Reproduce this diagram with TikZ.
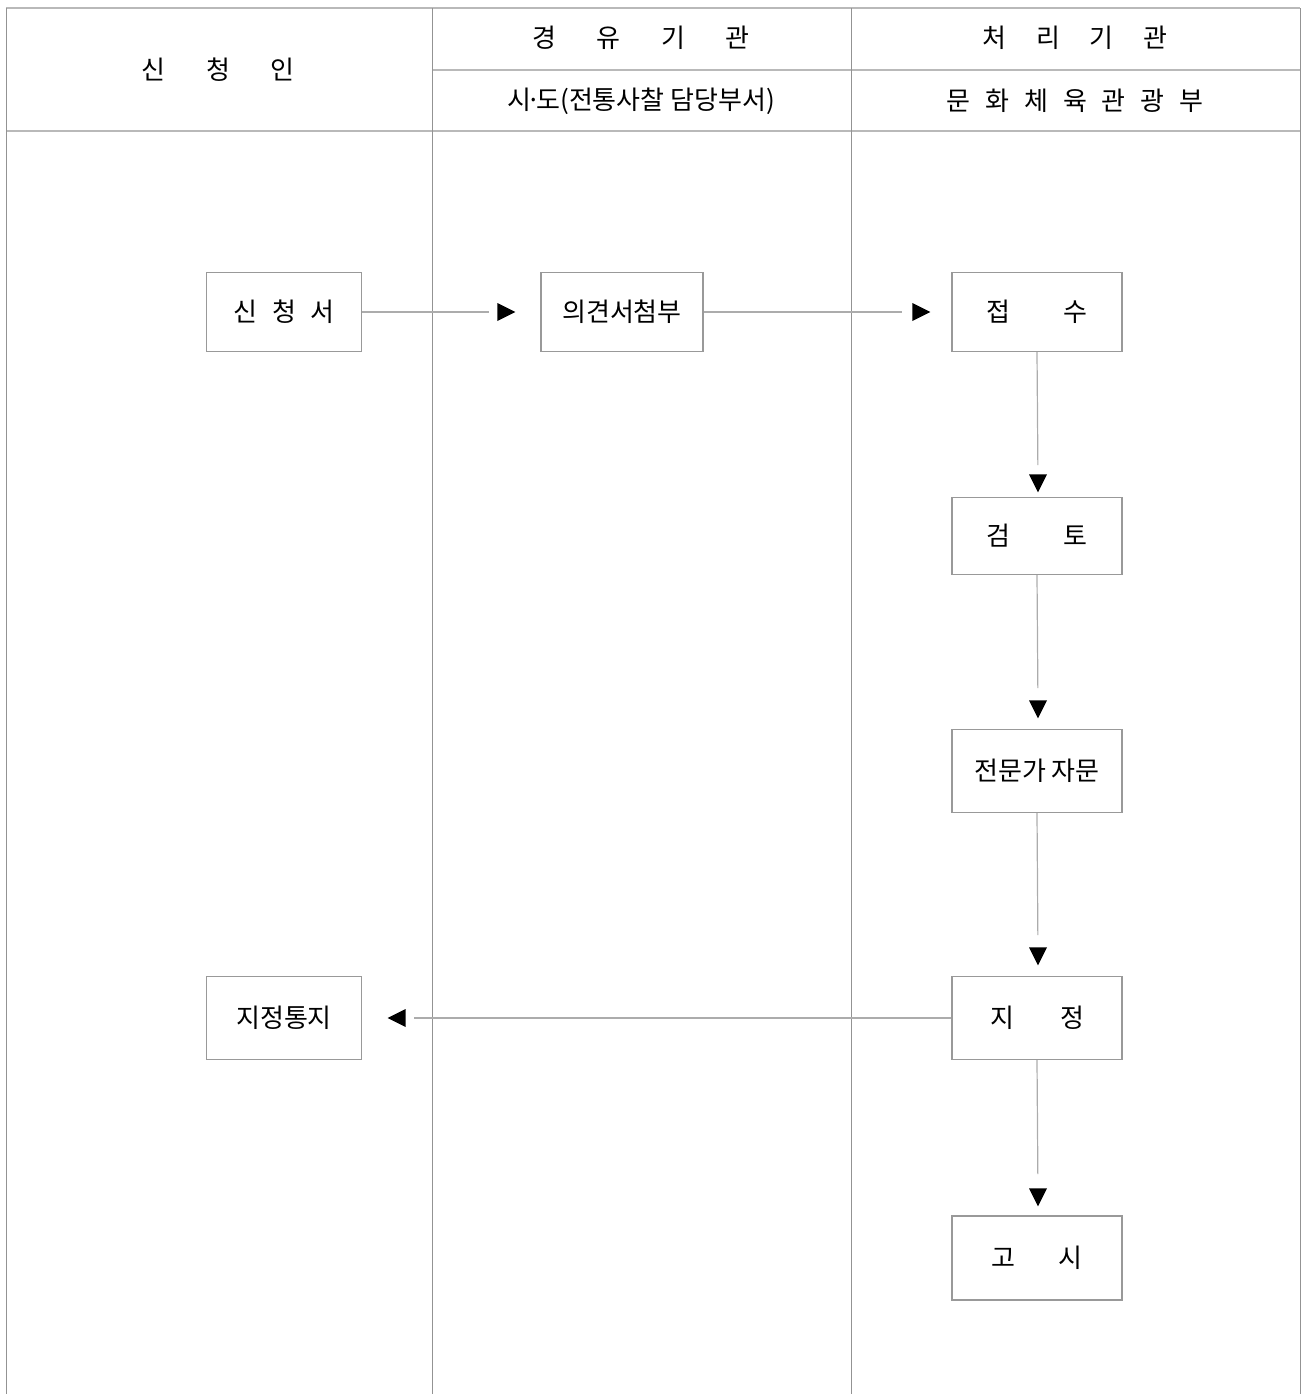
\documentclass[tikz,border=0pt]{standalone}
\usepackage{fontspec}
\setmainfont{Noto Sans CJK KR}
\usetikzlibrary{shapes.geometric}

\newcommand{\kgap}[1]{\hspace{#1pt}}

\begin{document}
\begin{tikzpicture}[x=0.5pt, y=-0.5pt,
    every node/.style={font=\fontsize{13}{15}\selectfont},
    frame/.style={draw=gray!55, line width=1pt},
    lane/.style={draw=gray!85, line width=0.5pt},
    stepbox/.style={draw=gray!80, line width=0.6pt, fill=white, inner sep=0pt},
    link/.style={draw=gray!65, line width=0.6pt},
    tip/.style={isosceles triangle, isosceles triangle stretches, fill=black,
        inner sep=0pt, minimum width=9pt, minimum height=9pt}]

    \useasboundingbox (0,0) rectangle (1302,1394);

    % table frame
    \draw[frame] (6,8) -- (1300,8);
    \draw[frame] (432,70) -- (1300,70);
    \draw[frame] (6,131) -- (1300,131);
    \draw[lane] (6,8) -- (6,1394);
    \draw[lane] (432,8) -- (432,1394);
    \draw[lane] (851,8) -- (851,1394);
    \draw[lane] (1300,8) -- (1300,1394);

    % headers
    \node (hdapp) at (218,70) {신\kgap{20.5}청\kgap{20.5}인};
    \node (hdvia) at (641,38) {경\kgap{20.3}유\kgap{20.3}기\kgap{20.3}관};
    \node (hdproc) at (1075,38) {처\kgap{15}리\kgap{15}기\kgap{15}관};
    \node (hdcity) at (641,101) {시\kern-2.3pt·\kern-2.3pt도(전통사찰 담당부서)};
    \node (hdmin) at (1075,101) {문\kgap{7.5}화\kgap{7.5}체\kgap{7.5}육\kgap{7.5}관\kgap{7.5}광\kgap{7.5}부};

    % steps
    \node[stepbox, minimum width=77.5pt, minimum height=39.5pt] (apply) at (284,312) {신\kgap{7.5}청\kgap{7.5}서};
    \node[stepbox, minimum width=81pt, minimum height=39.5pt] (opinion) at (622,312) {의견서첨부};
    \node[stepbox, minimum width=85pt, minimum height=39.5pt] (receive) at (1037,312) {접\kgap{27}수};
    \node[stepbox, minimum width=85pt, minimum height=38.5pt] (review) at (1037,536) {검\kgap{27}토};
    \node[stepbox, minimum width=85pt, minimum height=41.5pt] (expert) at (1037,771) {전문가 자문};
    \node[stepbox, minimum width=85pt, minimum height=41.5pt] (assign) at (1037,1018) {지\kgap{23}정};
    \node[stepbox, minimum width=85pt, minimum height=42pt] (notice) at (1037,1258) {고\kgap{22}시};
    \node[stepbox, minimum width=77.5pt, minimum height=41.5pt] (inform) at (284,1018) {지정통지};

    % arrow heads
    \node[tip] (tipopinion) at (503,312) {};
    \node[tip] (tipreceive) at (918,312) {};
    \node[tip, shape border rotate=270] (tipreview) at (1038,480) {};
    \node[tip, shape border rotate=270] (tipexpert) at (1038,706) {};
    \node[tip, shape border rotate=270] (tipassign) at (1038,953) {};
    \node[tip, shape border rotate=270] (tipnotice) at (1038,1194) {};
    \node[tip, shape border rotate=180] (tipinform) at (400,1018) {};

    % connectors
    \draw[link, shorten >=4pt] (apply) -- (tipopinion);
    \draw[link, shorten >=5pt] (opinion) -- (tipreceive);
    \draw[link, shorten >=4.5pt] (receive.south) -- (tipreview);
    \draw[link, shorten >=6pt] (review.south) -- (tipexpert);
    \draw[link, shorten >=6pt] (expert.south) -- (tipassign);
    \draw[link, shorten >=7pt] (assign.south) -- (tipnotice);
    \draw[link, shorten >=4pt] (assign) -- (tipinform);
\end{tikzpicture}
\end{document}
